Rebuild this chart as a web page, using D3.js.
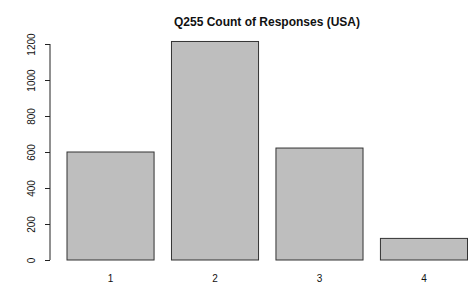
<!DOCTYPE html>
<html>
<head>
<meta charset="utf-8">
<script src="https://cdn.jsdelivr.net/npm/d3@7"></script>
<style>
  body { margin: 0; background: #fff; }
  text { font-family: "Liberation Sans", Arial, sans-serif; fill: #111; }
</style>
</head>
<body>
<script>
var categories = ["1", "2", "3", "4"];
var counts = [600, 1214, 622, 120];
var yTicks = [0, 200, 400, 600, 800, 1000, 1200];
var title = "Q255 Count of Responses (USA)";

var width = 475, height = 292;

var svg = d3.select("body").append("svg")
    .attr("width", width)
    .attr("height", height);

// R style barplot: bars of width 1, space 0.2
var x = d3.scaleLinear()
    .domain([0.2, 4.8])
    .range([67, 467.5]);

var y = d3.scaleLinear()
    .domain([0, 1200])
    .range([260, 44]);

svg.append("g")
  .selectAll("rect")
    .data(counts)
  .enter().append("rect")
    .attr("x", function(d, i) { return x(0.2 + 1.2 * i); })
    .attr("width", function(d, i) { return x(1.2 + 1.2 * i) - x(0.2 + 1.2 * i); })
    .attr("y", function(d) { return y(d); })
    .attr("height", function(d) { return y(0) - y(d); })
    .attr("fill", "#bebebe")
    .attr("stroke", "#333")
    .attr("stroke-width", 1);

// x labels, no axis line
svg.append("g")
  .selectAll("text")
    .data(categories)
  .enter().append("text")
    .attr("x", function(d, i) { return x(0.7 + 1.2 * i); })
    .attr("y", 282)
    .attr("text-anchor", "middle")
    .style("font-size", "10px")
    .text(function(d) { return d; });

// y axis
var yAxis = d3.axisLeft(y)
    .tickValues(yTicks)
    .tickFormat(d3.format("d"))
    .tickSize(5)
    .tickPadding(8);

var gy = svg.append("g")
    .attr("transform", "translate(50,0)")
    .call(yAxis);

gy.select(".domain")
    .attr("d", "M0," + y(1200) + "V" + y(0))
    .attr("stroke", "#222");
gy.selectAll(".tick line").attr("stroke", "#222");
gy.selectAll(".tick text")
    .style("font-size", "10px")
    .style("font-family", "Liberation Sans, Arial, sans-serif")
    .attr("fill", "#222")
    .attr("text-anchor", "middle")
    .attr("x", 0)
    .attr("dy", 0)
    .attr("transform", "translate(-15,0) rotate(-90)");

svg.append("text")
    .attr("x", 267)
    .attr("y", 26)
    .attr("text-anchor", "middle")
    .style("font-size", "12px")
    .style("font-weight", "bold")
    .text(title);
</script>
</body>
</html>
